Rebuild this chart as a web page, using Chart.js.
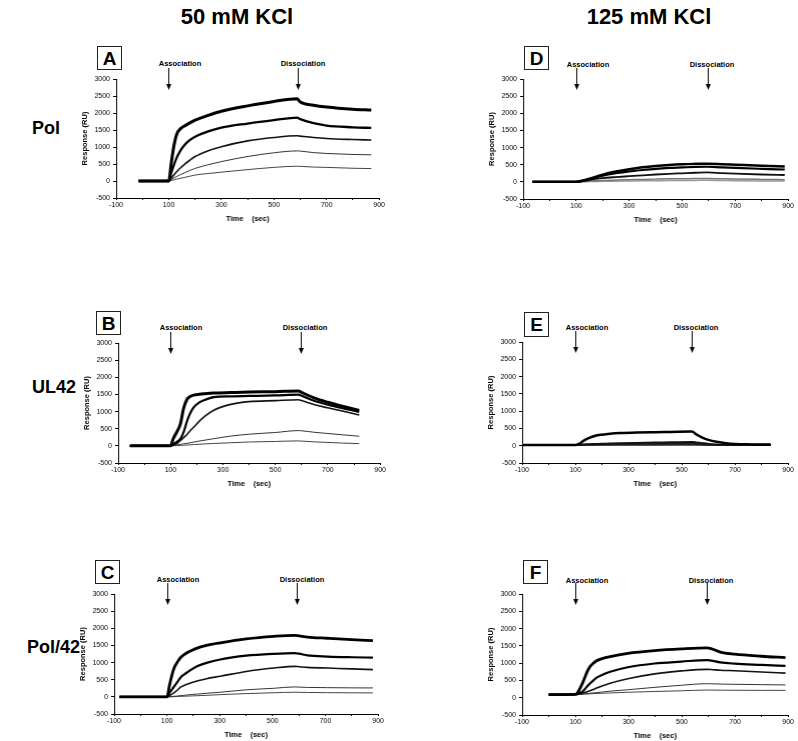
<!DOCTYPE html>
<html><head><meta charset="utf-8">
<script src="https://cdn.jsdelivr.net/npm/chart.js@4"></script>
<style>
body{margin:0;background:#fff;width:798px;height:741px;position:relative;overflow:hidden;font-family:"Liberation Sans",Arial,sans-serif;color:#000;}
.t{position:absolute;font-weight:bold;white-space:nowrap;line-height:1;}
.c{transform:translate(-50%,-50%);}
.lab{font-size:7.5px;}
.box{position:absolute;border:1px solid #222;box-sizing:border-box;font-weight:bold;font-size:19px;display:flex;align-items:center;justify-content:center;line-height:1;}
.wrap{position:absolute;}
</style></head><body>
<div class="t c" style="left:237px;top:17px;font-size:22px;">50 mM KCl</div>
<div class="t c" style="left:649px;top:17px;font-size:22px;">125 mM KCl</div>
<div class="t" style="left:32px;top:119px;font-size:18px;">Pol</div>
<div class="t" style="left:32px;top:378px;font-size:18px;">UL42</div>
<div class="t" style="left:27px;top:638px;font-size:18px;">Pol/42</div>

<div class="box" style="left:97px;top:46px;width:25px;height:24px;">A</div>
<div class="box" style="left:524px;top:46px;width:25px;height:24px;">D</div>
<div class="box" style="left:96px;top:311px;width:25px;height:24px;">B</div>
<div class="box" style="left:524px;top:312px;width:25px;height:25px;">E</div>
<div class="box" style="left:95px;top:560px;width:25px;height:24px;">C</div>
<div class="box" style="left:523px;top:560px;width:25px;height:24px;">F</div>

<div class="t c lab" style="left:180px;top:64px;">Association</div>
<div class="t c lab" style="left:303px;top:64px;">Dissociation</div>
<div class="t c lab" style="left:588px;top:65px;">Association</div>
<div class="t c lab" style="left:712px;top:65px;">Dissociation</div>
<div class="t c lab" style="left:181px;top:328px;">Association</div>
<div class="t c lab" style="left:305px;top:328px;">Dissociation</div>
<div class="t c lab" style="left:587px;top:328px;">Association</div>
<div class="t c lab" style="left:696px;top:328px;">Dissociation</div>
<div class="t c lab" style="left:178px;top:580px;">Association</div>
<div class="t c lab" style="left:302px;top:580px;">Dissociation</div>
<div class="t c lab" style="left:587px;top:581px;">Association</div>
<div class="t c lab" style="left:711px;top:581px;">Dissociation</div>

<script>
// ---------- DATA (seconds, RU) ----------
const xTickLabels = [-100, 100, 300, 500, 700, 900];
const yTickLabels = [-500, 0, 500, 1000, 1500, 2000, 2500, 3000];

// Panel A: Pol, 50 mM KCl
const timeA = [-15, 100, 110, 120, 130, 145, 160, 180, 200, 250, 300, 400, 500, 588, 600, 650, 700, 800, 870];
const a1 = [0, 0, 550, 1050, 1370, 1540, 1620, 1710, 1790, 1930, 2050, 2210, 2340, 2420, 2320, 2230, 2175, 2110, 2085];
const a2 = [0, 0, 250, 480, 680, 900, 1060, 1200, 1300, 1460, 1570, 1690, 1790, 1865, 1820, 1700, 1630, 1580, 1560];
const a3 = [0, 0, 90, 180, 270, 390, 490, 610, 720, 890, 1010, 1180, 1280, 1330, 1320, 1280, 1250, 1220, 1205];
const a4 = [0, 0, 45, 90, 130, 190, 240, 310, 370, 480, 570, 720, 830, 885, 880, 835, 810, 780, 770];
const a5 = [0, 0, 15, 35, 55, 80, 105, 140, 175, 220, 260, 335, 400, 435, 430, 410, 400, 375, 365];

// Panel B: UL42, 50 mM KCl
const timeB = [-55, 100, 110, 125, 138, 150, 164, 175, 189, 210, 230, 265, 330, 400, 500, 588, 600, 650, 700, 760, 820];
const b1 = [0, 0, 200, 420, 650, 1100, 1370, 1440, 1480, 1505, 1520, 1540, 1555, 1570, 1580, 1600, 1560, 1390, 1270, 1150, 1030];
const b2 = [0, 0, 50, 120, 210, 400, 740, 950, 1130, 1270, 1340, 1420, 1445, 1455, 1470, 1495, 1460, 1310, 1200, 1090, 990];
const b3 = [0, 0, 30, 70, 160, 240, 340, 440, 550, 720, 860, 1040, 1210, 1290, 1320, 1345, 1320, 1200, 1110, 1010, 900];
const b4 = [0, 0, 10, 25, 45, 60, 75, 90, 110, 140, 165, 210, 285, 340, 390, 445, 440, 395, 360, 320, 280];
const b5 = [0, 0, 3, 8, 12, 18, 25, 30, 38, 48, 56, 70, 90, 113, 128, 145, 140, 115, 100, 80, 65];

// Panel C: Pol/42, 50 mM KCl
const timeC = [-80, 100, 110, 125, 140, 151, 165, 176, 195, 214, 250, 302, 400, 505, 583, 600, 632, 708, 800, 880];
const c1 = [0, 0, 350, 800, 1020, 1140, 1230, 1285, 1360, 1420, 1500, 1575, 1690, 1765, 1795, 1780, 1745, 1710, 1670, 1640];
const c2 = [0, 0, 120, 280, 440, 560, 650, 710, 810, 890, 990, 1090, 1200, 1255, 1275, 1260, 1210, 1175, 1155, 1145];
const c3 = [0, 0, 40, 110, 200, 280, 330, 370, 420, 460, 530, 600, 740, 840, 890, 880, 860, 840, 815, 795];
const c4 = [0, 0, 5, 15, 25, 35, 45, 55, 70, 80, 105, 135, 205, 250, 290, 285, 275, 268, 262, 260];
const c5 = [0, 0, 2, 6, 10, 14, 18, 22, 28, 34, 45, 65, 95, 120, 135, 133, 128, 122, 118, 115];

// Panel D: Pol, 125 mM KCl
const timeD = [-65, 100, 125, 150, 175, 200, 250, 300, 350, 400, 450, 500, 550, 595, 650, 700, 800, 887];
const d1 = [0, 0, 40, 90, 150, 210, 300, 370, 425, 465, 495, 515, 525, 530, 515, 500, 470, 450];
const d2 = [0, 0, 35, 80, 130, 180, 250, 305, 345, 380, 405, 420, 435, 440, 420, 405, 380, 360];
const d3 = [0, 0, 25, 55, 85, 110, 140, 165, 190, 215, 235, 250, 265, 275, 255, 240, 215, 200];
const d4 = [0, 0, 10, 20, 30, 40, 52, 62, 72, 80, 87, 92, 97, 100, 90, 82, 72, 65];
const d5 = [0, 0, 4, 8, 12, 15, 20, 25, 30, 34, 38, 41, 43, 45, 40, 35, 28, 25];

// Panel E: UL42, 125 mM KCl
const timeE = [-95, 100, 115, 130, 150, 175, 200, 230, 270, 330, 400, 460, 538, 555, 575, 600, 630, 660, 700, 760, 834];
const e1 = [20, 20, 60, 140, 220, 290, 320, 345, 365, 382, 393, 400, 410, 330, 240, 170, 115, 80, 50, 38, 35];
const e2 = [20, 20, 30, 38, 45, 50, 55, 62, 70, 80, 90, 97, 108, 95, 75, 52, 38, 30, 28, 26, 25];
const e3 = [20, 20, 25, 28, 32, 35, 38, 41, 44, 48, 52, 55, 58, 50, 40, 30, 25, 23, 22, 21, 20];
const e4 = [20, 20, 22, 23, 24, 25, 26, 27, 28, 30, 31, 32, 34, 30, 26, 23, 21, 20, 20, 20, 20];
const e5 = [18, 18, 19, 19, 20, 20, 20, 21, 21, 22, 22, 22, 23, 22, 21, 20, 19, 19, 19, 18, 18];

// Panel F: Pol/42, 125 mM KCl
const timeF = [0, 100, 110, 118, 127, 136, 145, 155, 168, 180, 200, 231, 297, 398, 498, 595, 610, 645, 699, 800, 890];
const f1 = [90, 95, 160, 280, 420, 590, 760, 900, 1000, 1070, 1130, 1190, 1280, 1360, 1410, 1440, 1420, 1320, 1260, 1200, 1160];
const f2 = [90, 95, 110, 140, 180, 250, 330, 410, 500, 580, 660, 750, 880, 990, 1045, 1090, 1075, 1020, 985, 950, 920];
const f3 = [90, 95, 105, 115, 130, 150, 175, 200, 240, 280, 340, 420, 550, 690, 775, 820, 815, 795, 780, 745, 710];
const f4 = [90, 95, 100, 105, 110, 115, 120, 128, 138, 148, 165, 190, 230, 300, 360, 405, 403, 395, 388, 378, 370];
const f5 = [90, 95, 98, 100, 102, 105, 108, 112, 118, 122, 128, 138, 158, 180, 200, 222, 222, 218, 215, 213, 212];

// injection marker times (association / dissociation)
const arrowsA = [100, 590];
const arrowsB = [100, 595];
const arrowsC = [100, 592];
const arrowsD = [100, 595];
const arrowsE = [100, 538];
const arrowsF = [100, 595];

// ---------- DRAWING ----------
const FONT = '"Liberation Sans", Arial, sans-serif';

const arrowPlugin = {
  id: 'arrows',
  afterDraw(chart, args, opts) {
    const ctx = chart.ctx, xs = chart.scales.x, top = chart.chartArea.top;
    ctx.save();
    ctx.strokeStyle = '#000'; ctx.fillStyle = '#000'; ctx.lineWidth = 1;
    (opts.times || []).forEach(t => {
      const x = Math.round(xs.getPixelForValue(t)) + 0.5;
      const y0 = top - 11, y1 = top + 11;
      ctx.beginPath(); ctx.moveTo(x, y0); ctx.lineTo(x, y1 - 5); ctx.stroke();
      ctx.beginPath(); ctx.moveTo(x - 2.5, y1 - 6); ctx.lineTo(x + 2.5, y1 - 6); ctx.lineTo(x, y1); ctx.closePath(); ctx.fill();
    });
    ctx.restore();
  }
};

function config(p) {
  return {
    type: 'line',
    data: {
      datasets: p.series.map((s, i) => ({
        data: p.time.map((t, j) => ({ x: t, y: s[j] })),
        borderColor: p.colors[i],
        borderWidth: p.widths[i],
        pointRadius: 0,
        cubicInterpolationMode: 'monotone',
        fill: false
      }))
    },
    options: {
      responsive: false, animation: false, devicePixelRatio: 1,
      layout: { padding: { top: 30, left: 0, right: 4, bottom: 0 } },
      plugins: { legend: { display: false }, tooltip: { enabled: false }, arrows: { times: p.arrows } },
      scales: {
        x: {
          type: 'linear', min: -100, max: 900,
          ticks: { stepSize: 100, autoSkip: false, maxRotation: 0, padding: 1, color: '#000',
            font: { size: 7, family: FONT },
            callback: v => xTickLabels.includes(v) ? String(v) : '' },
          grid: { drawOnChartArea: false, tickLength: 2, color: '#000' },
          border: { color: '#000', width: 1 },
          title: { display: true, text: 'Time    (sec)', color: '#000',
            font: { size: 7.5, weight: 'bold', family: FONT }, padding: { top: 0, bottom: 1 } },
          afterFit: s => { s.height = 26; }
        },
        y: {
          min: -500, max: 3000,
          ticks: { stepSize: 500, autoSkip: false, padding: 3, color: '#000',
            font: { size: 7, family: FONT },
            callback: v => yTickLabels.includes(v) ? String(v) : '' },
          grid: { drawOnChartArea: false, tickLength: 3, color: '#000' },
          border: { color: '#000', width: 1 },
          title: { display: true, text: 'Response (RU)', color: '#000',
            font: { size: 7.5, weight: 'bold', family: FONT }, padding: { top: 4, bottom: 4 } },
          afterFit: s => { s.width = 40; }
        }
      }
    },
    plugins: [arrowPlugin]
  };
}

function makePanel(p) {
  const wrap = document.createElement('div');
  wrap.className = 'wrap';
  document.body.appendChild(wrap);
  let W = p.R - p.L + 60, H = p.B - p.T + 70;
  function build() {
    wrap.innerHTML = '';
    const cv = document.createElement('canvas');
    cv.width = W; cv.height = H; cv.style.width = W + 'px'; cv.style.height = H + 'px';
    wrap.appendChild(cv);
    return new Chart(cv, config(p));
  }
  let ch = build();
  let ca = ch.chartArea;
  W += (p.R - p.L) - (ca.right - ca.left);
  H += (p.B - p.T) - (ca.bottom - ca.top);
  ch.destroy();
  ch = build();
  ca = ch.chartArea;
  wrap.style.left = (p.L - ca.left) + 'px';
  wrap.style.top = (p.T - ca.top) + 'px';
}

const blk = ['#000', '#000', '#111', '#333', '#444'];
makePanel({ L: 116, R: 379, T: 79, B: 198, time: timeA, series: [a1, a2, a3, a4, a5], arrows: arrowsA, colors: blk, widths: [3, 2.3, 1.6, 1, 1] });
makePanel({ L: 118, R: 380, T: 343, B: 463, time: timeB, series: [b1, b2, b3, b4, b5], arrows: arrowsB, colors: blk, widths: [3, 2.2, 1.6, 1, 1] });
makePanel({ L: 114, R: 378, T: 594, B: 714, time: timeC, series: [c1, c2, c3, c4, c5], arrows: arrowsC, colors: blk, widths: [2.8, 2.2, 1.6, 1, 1] });
makePanel({ L: 523, R: 788, T: 79, B: 199, time: timeD, series: [d1, d2, d3, d4, d5], arrows: arrowsD, colors: ['#000', '#000', '#111', '#777', '#999'], widths: [2.5, 2.2, 1.8, 1.5, 1.5] });
makePanel({ L: 522, R: 788, T: 342, B: 463, time: timeE, series: [e1, e2, e3, e4, e5], arrows: arrowsE, colors: ['#000', '#111', '#222', '#333', '#444'], widths: [2.5, 2, 1.8, 1.5, 1.5] });
makePanel({ L: 522, R: 788, T: 594, B: 715, time: timeF, series: [f1, f2, f3, f4, f5], arrows: arrowsF, colors: blk, widths: [2.8, 2.2, 1.6, 1, 1] });
</script>
</body></html>
